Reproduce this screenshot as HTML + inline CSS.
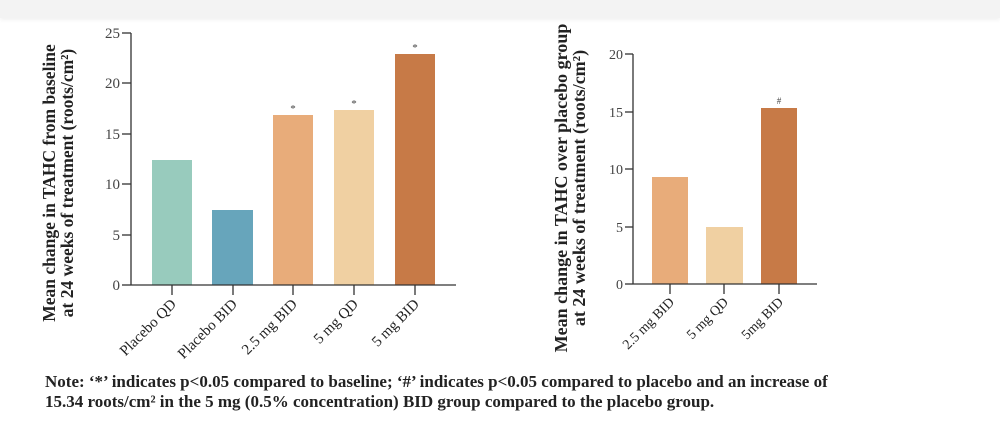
<!DOCTYPE html>
<html><head><style>
body{margin:0;width:1000px;height:422px;background:#fff;overflow:hidden;font-family:"Liberation Serif",serif;}
.top{position:absolute;left:0;top:0;width:1000px;height:18px;background:#f3f3f3;box-shadow:0 2px 4px rgba(0,0,0,0.06);}
.note{position:absolute;left:45px;top:372px;font-size:17px;font-weight:bold;color:#222;line-height:20px;white-space:nowrap;}
</style></head><body>
<div class="top"></div>
<svg width="1000" height="422" style="position:absolute;left:0;top:0" font-family="Liberation Serif, serif">
<g fill="#444" font-size="15">
<text transform="translate(55,183) rotate(-90)" text-anchor="middle" font-size="17.5" font-weight="bold" fill="#222">Mean change in TAHC from baseline</text>
<text transform="translate(73,183) rotate(-90)" text-anchor="middle" font-size="17.5" font-weight="bold" fill="#222">at 24 weeks of treatment (roots/cm²)</text>
<rect x="152" y="160" width="40" height="125" fill="#98cbbd"/>
<rect x="212" y="210" width="41" height="75" fill="#67a5bb"/>
<rect x="273" y="115" width="40" height="170" fill="#e8ac7a"/>
<rect x="334" y="110" width="40" height="175" fill="#f0d0a2"/>
<rect x="395" y="54" width="40" height="231" fill="#c77a47"/>
<g stroke="#333" stroke-width="1.3">
<line x1="131" y1="33" x2="131" y2="285"/><line x1="131" y1="285" x2="456" y2="285"/>
<line x1="122" y1="33" x2="131" y2="33"/><line x1="122" y1="83" x2="131" y2="83"/><line x1="122" y1="134" x2="131" y2="134"/><line x1="122" y1="184" x2="131" y2="184"/><line x1="122" y1="235" x2="131" y2="235"/><line x1="122" y1="285" x2="131" y2="285"/>
<line x1="172" y1="285" x2="172" y2="295"/><line x1="233" y1="285" x2="233" y2="295"/><line x1="293" y1="285" x2="293" y2="295"/><line x1="354" y1="285" x2="354" y2="295"/><line x1="415" y1="285" x2="415" y2="295"/>
</g>
<g text-anchor="end"><text x="120" y="38">25</text><text x="120" y="88">20</text><text x="120" y="139">15</text><text x="120" y="189">10</text><text x="120" y="240">5</text><text x="120" y="290">0</text></g>
<text x="293" y="112" text-anchor="middle" font-size="11">*</text>
<text x="354" y="107" text-anchor="middle" font-size="11">*</text>
<text x="415" y="51" text-anchor="middle" font-size="11">*</text>
<g text-anchor="end" font-size="15" fill="#222">
<text transform="translate(177,305) rotate(-45)">Placebo QD</text>
<text transform="translate(238,305) rotate(-45)">Placebo BID</text>
<text transform="translate(298,305) rotate(-45)">2.5 mg BID</text>
<text transform="translate(359,305) rotate(-45)">5 mg QD</text>
<text transform="translate(420,305) rotate(-45)">5 mg BID</text>
</g>
<text transform="translate(567,188) rotate(-90)" text-anchor="middle" font-size="18" font-weight="bold" fill="#222">Mean change in TAHC over placebo group</text>
<text transform="translate(585,188) rotate(-90)" text-anchor="middle" font-size="18" font-weight="bold" fill="#222">at 24 weeks of treatment (roots/cm²)</text>
<rect x="652" y="177" width="36" height="107" fill="#e8ac7a"/>
<rect x="706" y="227" width="37" height="57" fill="#f0d0a2"/>
<rect x="761" y="108" width="36" height="176" fill="#c77a47"/>
<g stroke="#333" stroke-width="1.3">
<line x1="633" y1="54" x2="633" y2="284"/><line x1="633" y1="284" x2="817" y2="284"/>
<line x1="625" y1="54" x2="633" y2="54"/><line x1="625" y1="112" x2="633" y2="112"/><line x1="625" y1="169" x2="633" y2="169"/><line x1="625" y1="227" x2="633" y2="227"/><line x1="625" y1="284" x2="633" y2="284"/>
<line x1="670" y1="284" x2="670" y2="294"/><line x1="724" y1="284" x2="724" y2="294"/><line x1="779" y1="284" x2="779" y2="294"/>
</g>
<g text-anchor="end" font-size="14"><text x="623" y="59">20</text><text x="623" y="117">15</text><text x="623" y="174">10</text><text x="623" y="232">5</text><text x="623" y="289">0</text></g>
<text x="779" y="104" text-anchor="middle" font-size="9">#</text>
<g text-anchor="end" font-size="14" fill="#222">
<text transform="translate(675,303) rotate(-45)">2.5 mg BID</text>
<text transform="translate(729,303) rotate(-45)">5 mg QD</text>
<text transform="translate(784,303) rotate(-45)">5mg BID</text>
</g>
</g>
</svg>
<div class="note">Note: ‘*’ indicates p&lt;0.05 compared to baseline; ‘#’ indicates p&lt;0.05 compared to placebo and an increase of<br>15.34 roots/cm² in the 5 mg (0.5% concentration) BID group compared to the placebo group.</div>
</body></html>
